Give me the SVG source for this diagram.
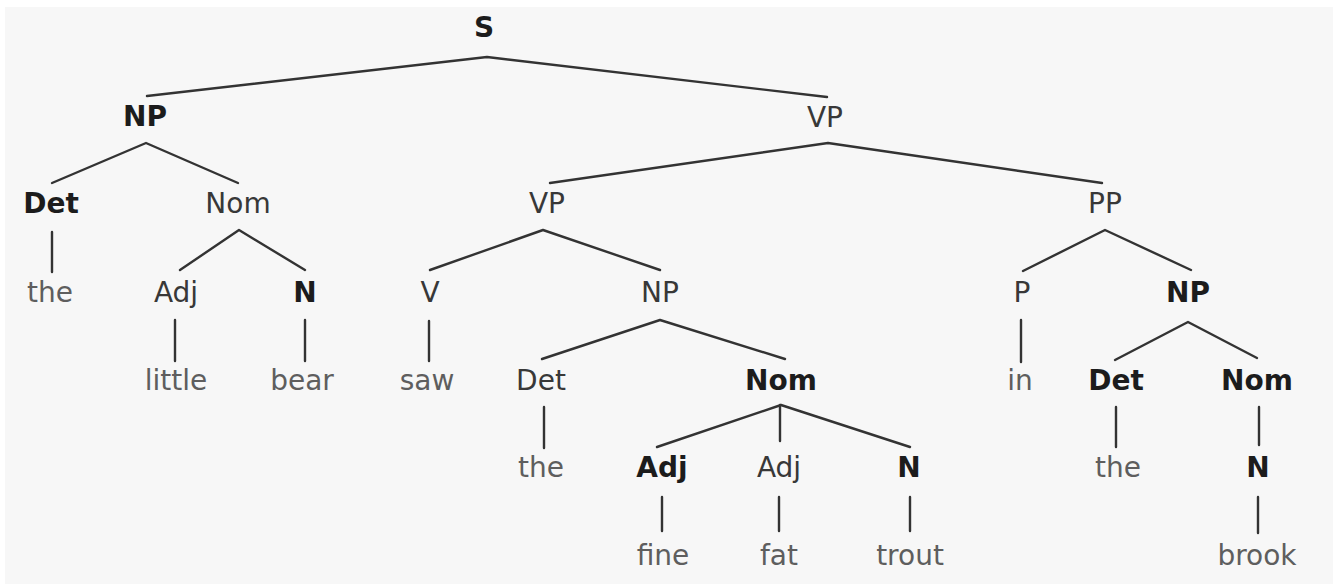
<svg xmlns="http://www.w3.org/2000/svg" width="1338" height="584" viewBox="0 0 1338 584">
<style>
.bg{fill:#f7f7f7}
text{font-family:"DejaVu Sans","Liberation Sans",sans-serif;font-size:28px;text-anchor:middle}
.b{font-weight:bold;fill:#1c1c1c}
.c{fill:#383838}
.w{fill:#5e5e5e}
.e{stroke:#333;stroke-width:2.4;fill:none;stroke-linecap:round;stroke-linejoin:round}
</style>
<rect width="1338" height="584" fill="#ffffff"/>
<rect class="bg" x="5" y="7" width="1328" height="577"/>
<g id="connectors" class="e">
<polyline points="147,96 487,57 827,97"/>
<polyline points="52,183 146,143 238,183"/>
<line x1="52" y1="232" x2="52" y2="272"/>
<polyline points="180,270 239,230 305,270"/>
<line x1="175" y1="320" x2="175" y2="361"/>
<line x1="305" y1="320" x2="305" y2="361"/>
<polyline points="550,183 828,143 1102,183"/>
<polyline points="430,270 543,230 660,270"/>
<line x1="429" y1="321" x2="429" y2="361"/>
<polyline points="542,359 660,320 785,359"/>
<line x1="544" y1="407" x2="544" y2="448"/>
<polyline points="657,447 781,405 910,447"/>
<line x1="780" y1="405" x2="780" y2="441"/>
<line x1="662" y1="497" x2="662" y2="531"/>
<line x1="779" y1="497" x2="779" y2="531"/>
<line x1="910" y1="497" x2="910" y2="531"/>
<polyline points="1023,271 1105,230 1191,270"/>
<line x1="1021" y1="320" x2="1021" y2="362"/>
<polyline points="1115,360 1188,322 1257,358"/>
<line x1="1116" y1="407" x2="1116" y2="447"/>
<line x1="1259" y1="407" x2="1259" y2="445"/>
<line x1="1258" y1="497" x2="1258" y2="533"/>
</g>
<g id="n-S"><text class="b" x="484" y="37">S</text></g>
<g id="n-NP1"><text class="b" x="145" y="126">NP</text></g>
<g id="n-VP1"><text class="c" x="825" y="127">VP</text></g>
<g id="n-Det1"><text class="b" x="51" y="213">Det</text></g>
<g id="n-Nom1"><text class="c" x="238" y="213">Nom</text></g>
<g id="n-VP2"><text class="c" x="547" y="213">VP</text></g>
<g id="n-PP"><text class="c" x="1105" y="213">PP</text></g>
<g id="n-the1"><text class="w" x="50" y="302">the</text></g>
<g id="n-Adj1"><text class="c" x="176" y="302">Adj</text></g>
<g id="n-N1"><text class="b" x="305" y="302">N</text></g>
<g id="n-V"><text class="c" x="430" y="302">V</text></g>
<g id="n-NP2"><text class="c" x="660" y="302">NP</text></g>
<g id="n-P"><text class="c" x="1022" y="302">P</text></g>
<g id="n-NP3"><text class="b" x="1188" y="302">NP</text></g>
<g id="n-little"><text class="w" x="176" y="390">little</text></g>
<g id="n-bear"><text class="w" x="302" y="390">bear</text></g>
<g id="n-saw"><text class="w" x="427" y="390">saw</text></g>
<g id="n-Det2"><text class="c" x="541" y="390">Det</text></g>
<g id="n-Nom2"><text class="b" x="781" y="390">Nom</text></g>
<g id="n-in"><text class="w" x="1020" y="390">in</text></g>
<g id="n-Det3"><text class="b" x="1116" y="390">Det</text></g>
<g id="n-Nom3"><text class="b" x="1257" y="390">Nom</text></g>
<g id="n-the2"><text class="w" x="541" y="477">the</text></g>
<g id="n-Adj2"><text class="b" x="662" y="477">Adj</text></g>
<g id="n-Adj3"><text class="c" x="779" y="477">Adj</text></g>
<g id="n-N2"><text class="b" x="909" y="477">N</text></g>
<g id="n-the3"><text class="w" x="1118" y="477">the</text></g>
<g id="n-N3"><text class="b" x="1258" y="477">N</text></g>
<g id="n-fine"><text class="w" x="663" y="565">fine</text></g>
<g id="n-fat"><text class="w" x="779" y="565">fat</text></g>
<g id="n-trout"><text class="w" x="910" y="565">trout</text></g>
<g id="n-brook"><text class="w" x="1257" y="565">brook</text></g>
</svg>
